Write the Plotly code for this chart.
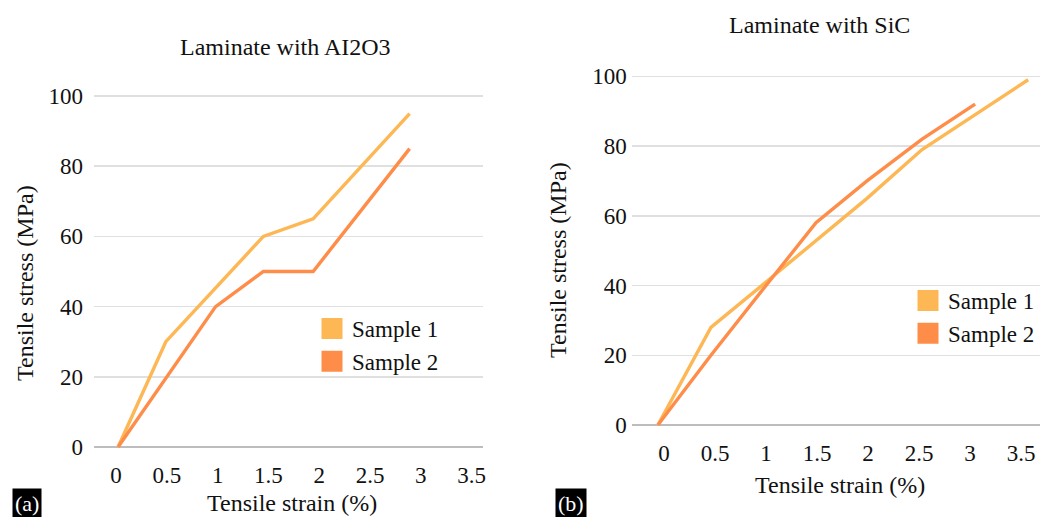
import plotly.graph_objects as go

# ---------------- data ----------------
# Panel (a): Laminate with AI2O3
a_s1_x = [0.02, 0.49, 1.45, 1.94, 2.89]
a_s1_y = [0, 30, 60, 65, 95]
a_s2_x = [0.02, 0.98, 1.45, 1.94, 2.89]
a_s2_y = [0, 40, 50, 50, 85]

# Panel (b): Laminate with SiC
b_s1_x = [-0.06, 0.46, 1.0, 1.49, 1.99, 2.53, 3.05, 3.57]
b_s1_y = [0, 28, 41, 53, 65, 79, 89, 99]
b_s2_x = [-0.06, 0.46, 1.0, 1.49, 1.99, 2.53, 3.05]
b_s2_y = [0, 20, 40, 58, 70, 82, 92]

x_ticks = [0, 0.5, 1, 1.5, 2, 2.5, 3, 3.5]
x_tick_labels = ["0", "0.5", "1", "1.5", "2", "2.5", "3", "3.5"]
y_ticks = [0, 20, 40, 60, 80, 100]
y_tick_labels = ["0", "20", "40", "60", "80", "100"]

series_names = ["Sample 1", "Sample 2"]
titles = ["Laminate with AI2O3", "Laminate with SiC"]
x_title = "Tensile strain (%)"
y_title = "Tensile stress (MPa)"
panel_labels = ["(a)", "(b)"]

# ---------------- style ----------------
W, H = 1040, 517
C1 = "#FDB754"
C2 = "#FF8D4A"
FONT = "Liberation Serif"
TXT = "#111111"
GRID = "#e0e0e0"
ZERO = "#bdbdbd"


def px(x):
    return x / W


def py(y):
    return 1 - y / H


fig = go.Figure()

# lines
for xs, ys, col, xa, ya in [
    (a_s1_x, a_s1_y, C1, "x", "y"),
    (a_s2_x, a_s2_y, C2, "x", "y"),
    (b_s1_x, b_s1_y, C1, "x2", "y2"),
    (b_s2_x, b_s2_y, C2, "x2", "y2"),
]:
    fig.add_trace(go.Scatter(x=xs, y=ys, mode="lines", xaxis=xa, yaxis=ya,
                             line=dict(color=col, width=3.4),
                             showlegend=False, hoverinfo="skip"))

# legend entries (square swatches)
for lg, xa, ya in [("legend", "x", "y"), ("legend2", "x2", "y2")]:
    for name, col in zip(series_names, [C1, C2]):
        fig.add_trace(go.Scatter(x=[None], y=[None], mode="markers", name=name,
                                 xaxis=xa, yaxis=ya, legend=lg,
                                 marker=dict(symbol="square", size=16, color=col,
                                             line=dict(color=col, width=5))))

axis_common = dict(showline=False, zeroline=False, ticks="", automargin=False,
                   tickfont=dict(family=FONT, size=23, color=TXT),
                   fixedrange=True)

fig.update_layout(
    template="none",
    width=W, height=H, autosize=False,
    margin=dict(l=0, r=0, t=0, b=0, pad=0, autoexpand=False),
    paper_bgcolor="white", plot_bgcolor="white",
    font=dict(family=FONT, size=23, color=TXT),
    xaxis=dict(domain=[px(94), px(483)], range=[-0.217, 3.612],
               tickvals=x_ticks, ticktext=x_tick_labels, showgrid=False,
               anchor="y", ticklabelstandoff=8, **axis_common),
    yaxis=dict(domain=[py(450.5), py(92.5)], range=[-1, 101],
               tickvals=y_ticks, ticktext=y_tick_labels,
               showgrid=True, gridcolor=GRID, gridwidth=1.5,
               anchor="x", ticklabelstandoff=10, **axis_common),
    xaxis2=dict(domain=[px(631.7), 1.0], range=[-0.317, 3.686],
                tickvals=x_ticks, ticktext=x_tick_labels, showgrid=False,
                anchor="y2", ticklabelstandoff=8, **axis_common),
    yaxis2=dict(domain=[py(428.5), py(72.8)], range=[-1, 101],
                tickvals=y_ticks, ticktext=y_tick_labels,
                showgrid=True, gridcolor=GRID, gridwidth=1.5,
                anchor="x2", ticklabelstandoff=4, **axis_common),
    legend=dict(x=px(312), y=py(307), xanchor="left", yanchor="top",
                bgcolor="rgba(0,0,0,0)", borderwidth=0,
                font=dict(family=FONT, size=23, color=TXT),
                tracegroupgap=0, itemclick=False),
    legend2=dict(x=px(908), y=py(279), xanchor="left", yanchor="top",
                 bgcolor="rgba(0,0,0,0)", borderwidth=0,
                 font=dict(family=FONT, size=23, color=TXT),
                 tracegroupgap=0, itemclick=False),
    showlegend=True,
)

fig.update_yaxes(zeroline=True, zerolinecolor=ZERO, zerolinewidth=2)

ann = []
# titles
ann.append(dict(text=titles[0], x=px(285), y=py(47), font=dict(size=24)))
ann.append(dict(text=titles[1], x=px(819), y=py(25), font=dict(size=24)))
# axis titles
ann.append(dict(text=x_title, x=px(292), y=py(503), font=dict(size=24)))
ann.append(dict(text=x_title, x=px(840), y=py(485), font=dict(size=24)))
ann.append(dict(text=y_title, x=px(25), y=py(283), textangle=-90, font=dict(size=24)))
ann.append(dict(text=y_title, x=px(558), y=py(260), textangle=-90, font=dict(size=24)))
for a in ann:
    a.update(xref="paper", yref="paper", showarrow=False,
             xanchor="center", yanchor="middle")
    a["font"].update(family=FONT, color=TXT)
    fig.add_annotation(**a)

# panel labels
for lab, cx in zip(panel_labels, [26.5, 570.5]):
    fig.add_annotation(text=lab, x=px(cx), y=py(503), xref="paper", yref="paper",
                       showarrow=False, xanchor="center", yanchor="middle",
                       bgcolor="black", borderpad=2,
                       font=dict(family=FONT, size=22, color="white"))

fig.write_html("out.html",
               config={"displayModeBar": False, "staticPlot": True},
               post_script="document.body.style.margin='0';"
                           "document.body.style.overflow='hidden';")
